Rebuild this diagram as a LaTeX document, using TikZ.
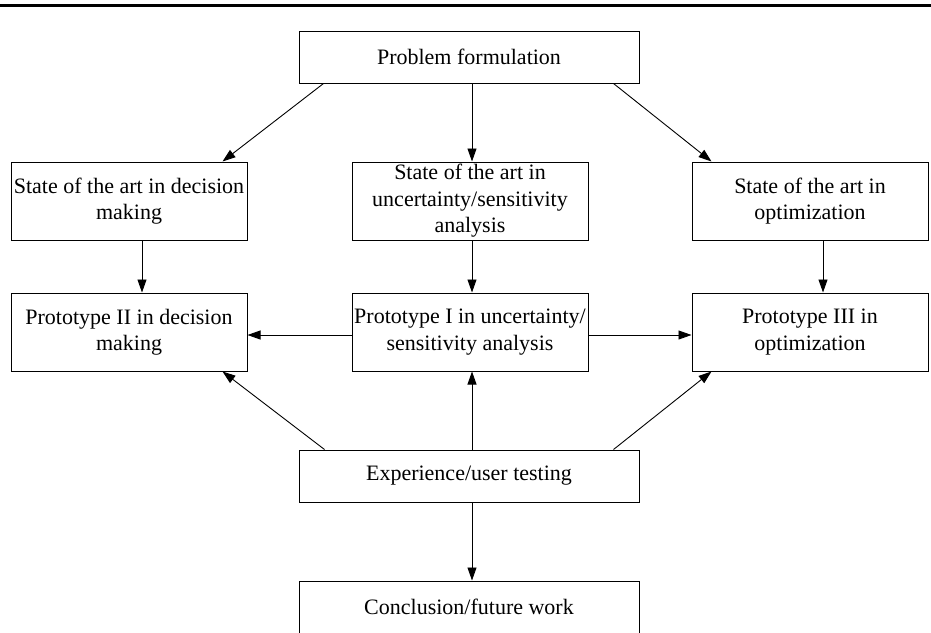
\documentclass[tikz,border=0pt]{standalone}
\usepackage{fontspec}
\setmainfont{Liberation Serif}
\usetikzlibrary{arrows.meta}
\begin{document}
\begin{tikzpicture}[x=1pt,y=-1pt,
  box/.style={draw=black, line width=1pt, inner sep=0pt, align=center,
    minimum width=236pt, minimum height=78pt,
    font=\fontsize{22pt}{26.5pt}\selectfont},
  widebox/.style={box, minimum width=340pt, minimum height=52pt},
  link/.style={line width=0.9pt, -{Triangle[length=13pt,width=9pt]}}]
\useasboundingbox (0,0) rectangle (931,632);
\clip (0,0) rectangle (931,632);
% header rule
\coordinate (ruleL) at (0,5.5);
\coordinate (ruleR) at (931,5.5);
\draw[line width=2.5pt] (ruleL) -- (ruleR);

% boxes
\node[widebox] (pf) at (469,57) {Problem formulation};
\node[box] (sd) at (129,201) {State of the art in decision\\making};
\node[box] (su) at (470,201) {State of the art in\\uncertainty/sensitivity\\analysis};
\node[box] (so) at (810,201) {State of the art in\\optimization};
\node[box] (p2) at (129,332) {Prototype II in decision\\making};
\node[box] (p1) at (470,332) {Prototype I in uncertainty/\\sensitivity analysis};
\node[box] (p3) at (810,332) {Prototype III in\\optimization};
\node[widebox] (ex) at (469,476) {Experience/user testing};
\node[widebox] (cf) at (469,607) {Conclusion/future work};

% problem formulation to the three surveys
\draw[link] ([xshift=25pt]pf.south west) -- ([xshift=-25pt]sd.north east);
\draw[link] ([xshift=3pt]pf.south) -- ([xshift=2pt]su.north);
\draw[link] ([xshift=-26pt]pf.south east) -- ([xshift=20pt]so.north west);

% surveys to prototypes
\draw[link] ([xshift=13pt]sd.south) -- ([xshift=13pt]p2.north);
\draw[link] ([xshift=2pt]su.south) -- ([xshift=2pt]p1.north);
\draw[link] ([xshift=13pt]so.south) -- ([xshift=13pt]p3.north);

% prototype I feeds the other two
\draw[link] ([yshift=-3pt]p1.west) -- ([yshift=-3pt]p2.east);
\draw[link] ([yshift=-3pt]p1.east) -- ([yshift=-3pt]p3.west);

% user testing back to the prototypes
\draw[link] ([xshift=26pt]ex.north west) -- ([xshift=-25pt]p2.south east);
\draw[link] ([xshift=3pt]ex.north) -- ([xshift=2pt]p1.south);
\draw[link] ([xshift=-26pt]ex.north east) -- ([xshift=20pt]p3.south west);

% conclusion
\draw[link] ([xshift=3pt]ex.south) -- ([xshift=3pt]cf.north);
\end{tikzpicture}
\end{document}
